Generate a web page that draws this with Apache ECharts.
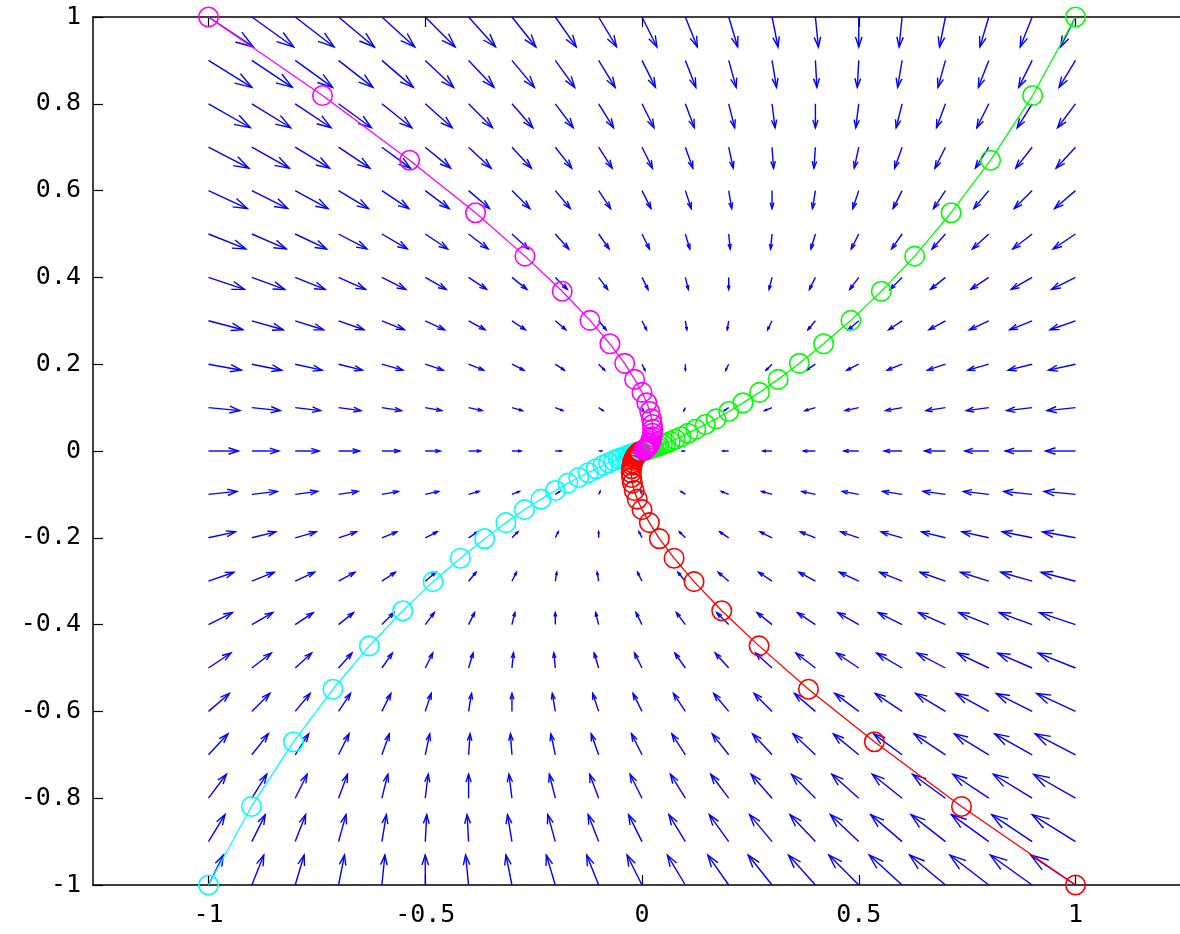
<!DOCTYPE html>
<html>
<head>
<meta charset="utf-8">
<script src="https://cdn.jsdelivr.net/npm/echarts@6/dist/echarts.min.js"></script>
<style>
  html, body { margin: 0; padding: 0; background: #ffffff; }
  #chart { width: 1180px; height: 934px; }
</style>
</head>
<body>
<div id="chart"></div>
<script>
// Quiver grid (tail positions of the arrows)
const GRID_X = [-1, -0.9, -0.8, -0.7, -0.6, -0.5, -0.4, -0.3, -0.2, -0.1, 0, 0.1, 0.2, 0.3, 0.4, 0.5, 0.6, 0.7, 0.8, 0.9, 1];
const GRID_Y = [-1, -0.9, -0.8, -0.7, -0.6, -0.5, -0.4, -0.3, -0.2, -0.1, 0, 0.1, 0.2, 0.3, 0.4, 0.5, 0.6, 0.7, 0.8, 0.9, 1];
// Linear system dx/dt = a11*x + a12*y, dy/dt = a21*x + a22*y
const FIELD_A = [[-1, 0.5], [0, -1]];
const ARROW_SCALE = 0.069;

// Axis ticks
const X_TICKS = [-1, -0.5, 0, 0.5, 1];
const Y_TICKS = [-1, -0.8, -0.6, -0.4, -0.2, 0, 0.2, 0.4, 0.6, 0.8, 1];

// Trajectories, sampled every 0.2 time units
const GREEN_X = [1, 0.901, 0.804, 0.713, 0.629, 0.552, 0.482, 0.419, 0.363, 0.314, 0.271, 0.233, 0.200, 0.171, 0.146, 0.124, 0.106, 0.090, 0.077, 0.065, 0.055, 0.047, 0.039, 0.033, 0.028, 0.024, 0.020, 0.017, 0.014, 0.012, 0.010];
const GREEN_Y = [1, 0.819, 0.670, 0.549, 0.449, 0.368, 0.301, 0.247, 0.202, 0.165, 0.135, 0.111, 0.091, 0.074, 0.061, 0.050, 0.041, 0.033, 0.027, 0.022, 0.018, 0.015, 0.012, 0.010, 0.008, 0.007, 0.006, 0.005, 0.004, 0.003, 0.002];

const MAGENTA_X = [-1, -0.737, -0.536, -0.384, -0.270, -0.184, -0.120, -0.074, -0.040, -0.017, 0, 0.011, 0.018, 0.022, 0.024, 0.025, 0.024, 0.023, 0.022, 0.020, 0.018, 0.017, 0.015, 0.013, 0.012, 0.010, 0.009, 0.008, 0.007, 0.006, 0.005];
const MAGENTA_Y = [1, 0.819, 0.670, 0.549, 0.449, 0.368, 0.301, 0.247, 0.202, 0.165, 0.135, 0.111, 0.091, 0.074, 0.061, 0.050, 0.041, 0.033, 0.027, 0.022, 0.018, 0.015, 0.012, 0.010, 0.008, 0.007, 0.006, 0.005, 0.004, 0.003, 0.002];

const CYAN_X = [-1, -0.901, -0.804, -0.713, -0.629, -0.552, -0.482, -0.419, -0.363, -0.314, -0.271, -0.233, -0.200, -0.171, -0.146, -0.124, -0.106, -0.090, -0.077, -0.065, -0.055, -0.047, -0.039, -0.033, -0.028, -0.024, -0.020, -0.017, -0.014, -0.012, -0.010];
const CYAN_Y = [-1, -0.819, -0.670, -0.549, -0.449, -0.368, -0.301, -0.247, -0.202, -0.165, -0.135, -0.111, -0.091, -0.074, -0.061, -0.050, -0.041, -0.033, -0.027, -0.022, -0.018, -0.015, -0.012, -0.010, -0.008, -0.007, -0.006, -0.005, -0.004, -0.003, -0.002];

const RED_X = [1, 0.737, 0.536, 0.384, 0.270, 0.184, 0.120, 0.074, 0.040, 0.017, 0, -0.011, -0.018, -0.022, -0.024, -0.025, -0.024, -0.023, -0.022, -0.020, -0.018, -0.017, -0.015, -0.013, -0.012, -0.010, -0.009, -0.008, -0.007, -0.006, -0.005];
const RED_Y = [-1, -0.819, -0.670, -0.549, -0.449, -0.368, -0.301, -0.247, -0.202, -0.165, -0.135, -0.111, -0.091, -0.074, -0.061, -0.050, -0.041, -0.033, -0.027, -0.022, -0.018, -0.015, -0.012, -0.010, -0.008, -0.007, -0.006, -0.005, -0.004, -0.003, -0.002];

// ---- build the arrow table: [x, y, u, v] ----
const arrows = [];
GRID_Y.forEach(function (y) {
  GRID_X.forEach(function (x) {
    const u = ARROW_SCALE * (FIELD_A[0][0] * x + FIELD_A[0][1] * y);
    const v = ARROW_SCALE * (FIELD_A[1][0] * x + FIELD_A[1][1] * y);
    if (Math.abs(u) + Math.abs(v) > 1e-12) arrows.push([x, y, u, v]);
  });
});

function zip(xs, ys) { return xs.map(function (x, i) { return [x, ys[i]]; }); }

const HEAD_LEN = 0.33;   // arrow head length relative to the vector
const HEAD_WIDTH = 0.33; // arrow head half-width relative to head length
const ARROW_COLOR = '#0000ff';
const FONT = '"DejaVu Sans Mono", monospace';
const X_MIN = -1.2664, X_MAX = 1.2664;

function renderArrow(params, api) {
  const x = api.value(0), y = api.value(1), u = api.value(2), v = api.value(3);
  const tx = x + u, ty = y + v;
  const p0 = api.coord([x, y]);
  const p1 = api.coord([tx, ty]);
  const h1 = api.coord([tx - HEAD_LEN * (u + HEAD_WIDTH * v), ty - HEAD_LEN * (v - HEAD_WIDTH * u)]);
  const h2 = api.coord([tx - HEAD_LEN * (u - HEAD_WIDTH * v), ty - HEAD_LEN * (v + HEAD_WIDTH * u)]);
  const st = { stroke: ARROW_COLOR, lineWidth: 1.4, fill: null };
  return {
    type: 'group',
    children: [
      { type: 'polyline', shape: { points: [p0, p1] }, style: st },
      { type: 'polyline', shape: { points: [h1, p1, h2] }, style: st }
    ]
  };
}

function trajectory(name, xs, ys, color) {
  return {
    name: name,
    type: 'line',
    data: zip(xs, ys),
    symbol: 'circle',
    symbolSize: 19.5,
    showSymbol: true,
    showAllSymbol: true,
    clip: false,
    silent: true,
    lineStyle: { color: color, width: 1.3 },
    itemStyle: { color: 'rgba(0,0,0,0)', borderColor: color, borderWidth: 1.6 },
    emphasis: { disabled: true },
    animation: false
  };
}

const axisLineStyle = { color: '#000000', width: 1.5 };

const chart = echarts.init(document.getElementById('chart'), null, { renderer: 'canvas' });
chart.setOption({
  animation: false,
  backgroundColor: '#ffffff',
  grid: { left: 93, top: 17, width: 1098, height: 868, containLabel: false, outerBoundsMode: 'none' },
  xAxis: [
    {
      type: 'value', position: 'bottom', min: X_MIN, max: X_MAX,
      axisLine: { show: true, onZero: false, lineStyle: axisLineStyle },
      axisTick: { show: true, inside: true, length: 10, customValues: X_TICKS, lineStyle: { color: '#000', width: 1.2 } },
      axisLabel: { show: true, customValues: X_TICKS, margin: 18, color: '#000', fontFamily: FONT, fontSize: 25,
                   formatter: function (v) { return String(v); } },
      splitLine: { show: false }
    },
    {
      type: 'value', position: 'top', min: X_MIN, max: X_MAX,
      axisLine: { show: true, onZero: false, lineStyle: axisLineStyle },
      axisTick: { show: true, inside: true, length: 10, customValues: X_TICKS, lineStyle: { color: '#000', width: 1.2 } },
      axisLabel: { show: false },
      splitLine: { show: false }
    }
  ],
  yAxis: [
    {
      type: 'value', position: 'left', min: -1, max: 1, interval: 0.2,
      axisLine: { show: true, onZero: false, lineStyle: axisLineStyle },
      axisTick: { show: true, inside: true, length: 10, customValues: Y_TICKS, lineStyle: { color: '#000', width: 1.2 } },
      axisLabel: { show: true, customValues: Y_TICKS, margin: 12, color: '#000', fontFamily: FONT, fontSize: 25,
                   formatter: function (v) { return String(Math.round(v * 10) / 10); } },
      splitLine: { show: false }
    },
    {
      type: 'value', position: 'right', min: -1, max: 1, interval: 0.2,
      axisLine: { show: true, onZero: false, lineStyle: axisLineStyle },
      axisTick: { show: true, inside: true, length: 10, lineStyle: { color: '#000', width: 1.2 } },
      axisLabel: { show: false },
      splitLine: { show: false }
    }
  ],
  series: [
    {
      name: 'field',
      type: 'custom',
      coordinateSystem: 'cartesian2d',
      xAxisIndex: 0, yAxisIndex: 0,
      encode: { x: 0, y: 1 },
      data: arrows,
      renderItem: renderArrow,
      silent: true,
      animation: false
    },
    trajectory('cyan', CYAN_X, CYAN_Y, '#00ffff'),
    trajectory('red', RED_X, RED_Y, '#ff0000'),
    trajectory('green', GREEN_X, GREEN_Y, '#00ff00'),
    trajectory('magenta', MAGENTA_X, MAGENTA_Y, '#ff00ff')
  ]
});
</script>
</body>
</html>
